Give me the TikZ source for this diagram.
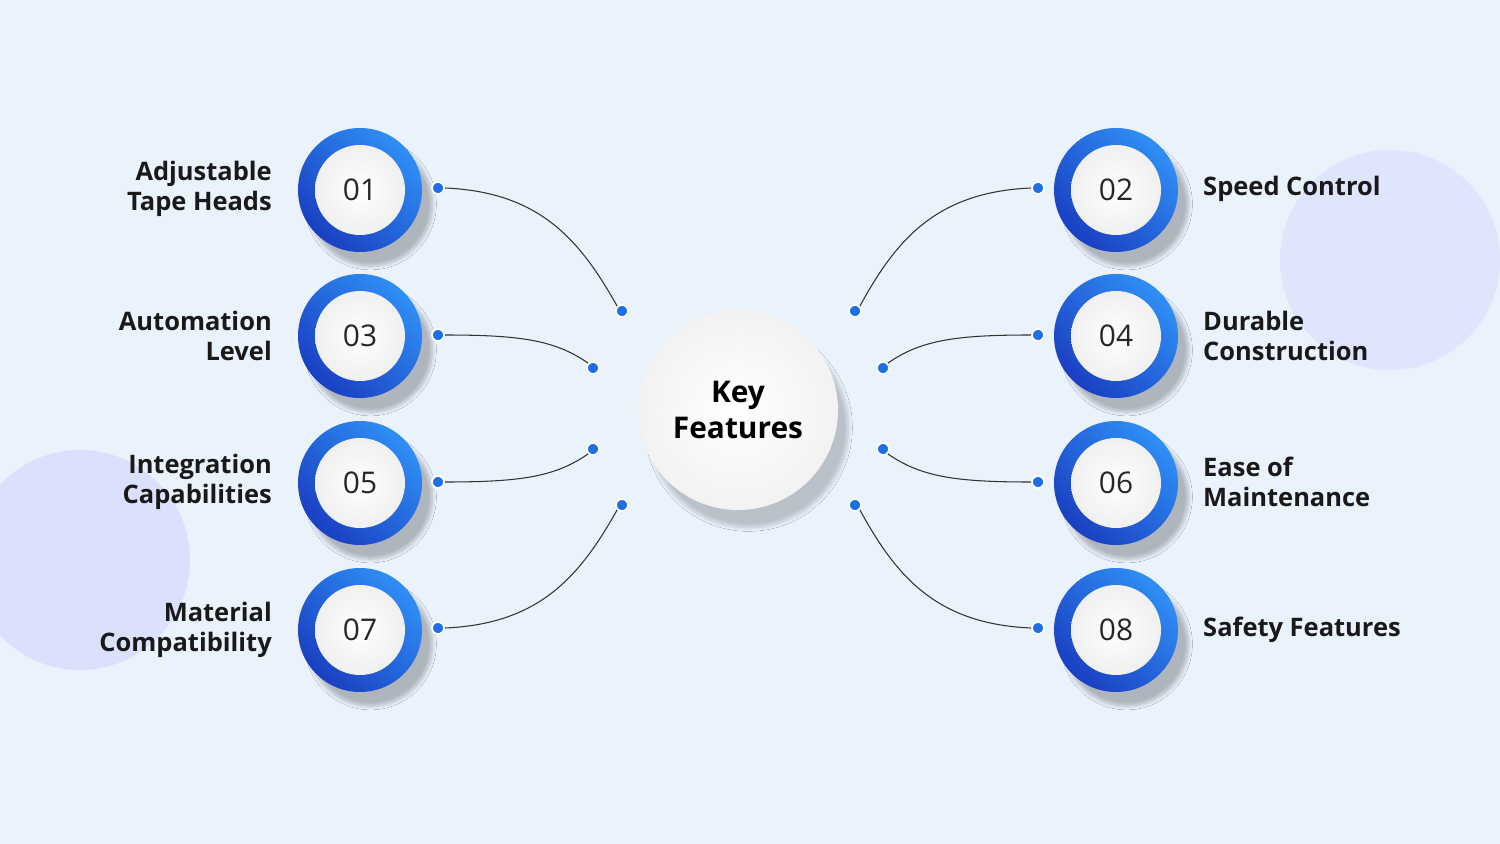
\documentclass[tikz,border=0pt]{standalone}
\usepackage{fontspec}
\setmainfont{Open Sans}
\usetikzlibrary{shadows.blur}
\definecolor{bg}{HTML}{EAF2FC}
\definecolor{blueA}{HTML}{2F8FF5}
\definecolor{blueB}{HTML}{1A3FC2}
\definecolor{dotb}{HTML}{1D6FE3}
\newcommand{\pu}{*0.02cm}
\tikzset{
 ring/.style={circle,minimum size=124\pu,inner sep=0pt,left color=blueA,right color=blueB,shading angle=-45,blur shadow={shadow xshift=6pt,shadow yshift=-8pt,shadow blur steps=8,shadow opacity=25}},
 core/.style={circle,minimum size=90\pu,inner sep=0pt,inner color=white,outer color=gray!12,font=\fontsize{17}{20}\selectfont,text=black!85},
 lbl/.style={font=\bfseries\fontsize{14.5}{17.5}\selectfont,text=black!90},
 dot/.style={circle,fill=dotb,draw=white,line width=1pt,minimum size=12\pu,inner sep=0pt},
 link/.style={draw=black!80,line width=0.6pt},
}
\begin{document}
\begin{tikzpicture}[x=0.02cm,y=-0.02cm]
\useasboundingbox (0,0) rectangle (1500,844);
\fill[bg] (0,0) rectangle (1500,844);
\fill[blue!30,opacity=0.25] (80,560) circle (110);
\fill[blue!30,opacity=0.2] (1390,260) circle (110);
\node[circle,minimum size=200\pu,inner sep=0pt,inner color=white,outer color=gray!10,blur shadow={shadow xshift=6pt,shadow yshift=-10pt,shadow blur steps=10,shadow opacity=20},font=\bfseries\fontsize{17}{21}\selectfont,align=center] (c) at (738,410) {Key\\Features};
\foreach \n/\x/\y in {01/360/190,03/360/336,05/360/483,07/360/630,02/1116/190,04/1116/336,06/1116/483,08/1116/630}{
 \node[ring] (r\n) at (\x,\y) {};
 \node[core] (k\n) at (\x,\y) {\n};
}
\node[lbl,anchor=east,align=right] (t01) at (278,189) {Adjustable\\Tape Heads};
\node[lbl,anchor=east,align=right] (t03) at (278,336) {Automation\\Level};
\node[lbl,anchor=east,align=right] (t05) at (278,482) {Integration\\Capabilities};
\node[lbl,anchor=east,align=right] (t07) at (278,630) {Material\\Compatibility};
\node[lbl,anchor=west,align=left] (t02) at (1197,189) {Speed Control};
\node[lbl,anchor=west,align=left] (t04) at (1197,336) {Durable\\Construction};
\node[lbl,anchor=west,align=left] (t06) at (1197,482) {Ease of\\Maintenance};
\node[lbl,anchor=west,align=left] (t08) at (1197,630) {Safety Features};
\node[dot] (a1) at (438,188) {}; \node[dot] (b1) at (622,311) {};
\node[dot] (a3) at (438,335) {}; \node[dot] (b3) at (593,368) {};
\node[dot] (a5) at (438,482) {}; \node[dot] (b5) at (593,449) {};
\node[dot] (a7) at (438,628) {}; \node[dot] (b7) at (622,505) {};
\node[dot] (a2) at (1038,188) {}; \node[dot] (b2) at (855,311) {};
\node[dot] (a4) at (1038,335) {}; \node[dot] (b4) at (883,368) {};
\node[dot] (a6) at (1038,482) {}; \node[dot] (b6) at (883,449) {};
\node[dot] (a8) at (1038,628) {}; \node[dot] (b8) at (855,505) {};
\path[link] (a1.east) .. controls (540,192) and (580,240) .. (b1.north west);
\path[link] (a3.east) .. controls (520,335) and (555,340) .. (b3.north west);
\path[link] (a5.east) .. controls (520,482) and (555,477) .. (b5.south west);
\path[link] (a7.east) .. controls (540,624) and (580,576) .. (b7.south west);
\path[link] (a2.west) .. controls (936,192) and (896,240) .. (b2.north east);
\path[link] (a4.west) .. controls (956,335) and (921,340) .. (b4.north east);
\path[link] (a6.west) .. controls (956,482) and (921,477) .. (b6.south east);
\path[link] (a8.west) .. controls (936,624) and (896,576) .. (b8.south east);
\end{tikzpicture}
\end{document}
